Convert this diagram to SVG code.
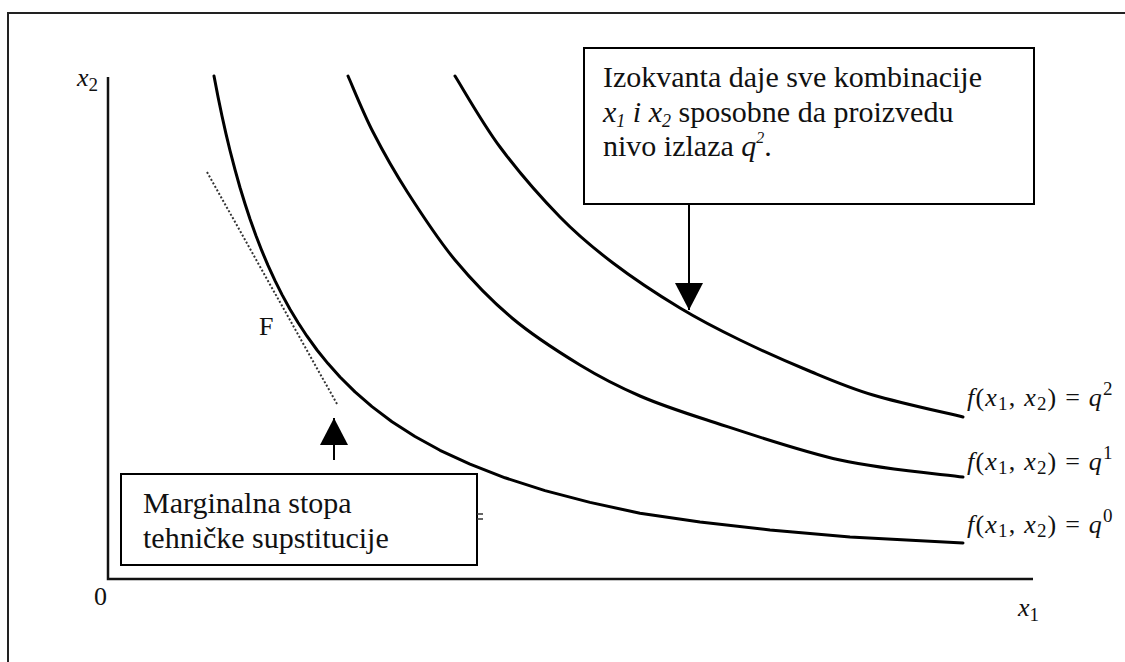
<svg xmlns="http://www.w3.org/2000/svg" width="1125" height="662" viewBox="0 0 1125 662">
<style>
.frame{stroke:#222;stroke-width:2;fill:none}
.axis{stroke:#111;stroke-width:2.5;fill:none}
.curve{stroke:#000;stroke-width:3;fill:none;stroke-linejoin:round;stroke-linecap:round}
.box{fill:#fff;stroke:#000;stroke-width:2}
.lbl{fill:#111}
.note{font-size:30px;fill:#111}
.it{font-style:italic}
.serif{font-family:'Liberation Serif','Tinos','Noto Serif','DejaVu Serif','Times New Roman',serif}
</style>
<defs>
<marker id="ah" markerWidth="28" markerHeight="28" refX="27" refY="14" orient="auto" markerUnits="userSpaceOnUse">
<path d="M0,0 L27,14 L0,28 Z" fill="#000"/>
</marker>
</defs>
<rect width="1125" height="662" fill="#fff"/>
<g id="frame">
<path class="frame" d="M8,662 L8,13 L1125,13"/>
</g>
<g class="serif">
<g id="axes">
<path class="axis" d="M108,77 L108,579 L1033,579"/>
<text class="lbl it" x="77" y="86" font-size="26">x<tspan font-style="normal" font-size="19" dy="5">2</tspan></text>
<text class="lbl" x="94" y="605" font-size="26">0</text>
<text class="lbl it" x="1018" y="616" font-size="26">x<tspan font-style="normal" font-size="19" dy="5">1</tspan></text>
</g>
<g id="curve-q0">
<polyline class="curve" points="214,76 218,96.8 222,116 226,133.9 230,150.5 235,169.7 240,187.5 245,203.8 250,219 256,235.7 262,251.2 268,265.4 275,280.6 282,294.6 290,309.2 298,322.5 307,336.2 317,350 328,363.6 340,377 355,391.9 372,406.6 392,421.7 415,436.5 440,450.3 470,464.2 505,477.8 545,490.6 590,502.4 640,513.2 700,522 770,530 850,537 963,543"/>
<text class="lbl" x="967" y="533" font-size="26" letter-spacing="1.2"><tspan class="it">f</tspan>(<tspan class="it">x</tspan><tspan font-size="19" dy="4">1</tspan><tspan dy="-4">, </tspan><tspan class="it">x</tspan><tspan font-size="19" dy="4">2</tspan><tspan dy="-4">) = </tspan><tspan class="it">q</tspan><tspan font-size="19" dy="-11">0</tspan></text>
</g>
<g id="curve-q1">
<path class="curve" d="M348,76 C352.2,85.3 363,112.5 373,132 C383,151.5 394.3,171.7 408,193 C421.7,214.3 437.7,239.2 455,260 C472.3,280.8 491.2,300.5 512,318 C532.8,335.5 558.7,352 580,365 C601.3,378 618.8,386.8 640,396 C661.2,405.2 673.7,409.3 707,420 C740.3,430.7 797.3,450.5 840,460 C882.7,469.5 942.5,474.2 963,477"/>
<text class="lbl" x="967" y="470" font-size="26" letter-spacing="1.2"><tspan class="it">f</tspan>(<tspan class="it">x</tspan><tspan font-size="19" dy="4">1</tspan><tspan dy="-4">, </tspan><tspan class="it">x</tspan><tspan font-size="19" dy="4">2</tspan><tspan dy="-4">) = </tspan><tspan class="it">q</tspan><tspan font-size="19" dy="-11">1</tspan></text>
</g>
<g id="curve-q2">
<path class="curve" d="M455,76 C462.5,87.8 482.5,123.5 500,147 C517.5,170.5 541.2,197.7 560,217 C578.8,236.3 593,247.8 613,263 C633,278.2 658.8,295.2 680,308 C701.2,320.8 718.8,329.7 740,340 C761.2,350.3 784.8,360.8 807,370 C829.2,379.2 847,387.2 873,395 C899,402.8 948,413.3 963,417"/>
<text class="lbl" x="967" y="406" font-size="26" letter-spacing="1.2"><tspan class="it">f</tspan>(<tspan class="it">x</tspan><tspan font-size="19" dy="4">1</tspan><tspan dy="-4">, </tspan><tspan class="it">x</tspan><tspan font-size="19" dy="4">2</tspan><tspan dy="-4">) = </tspan><tspan class="it">q</tspan><tspan font-size="19" dy="-11">2</tspan></text>
</g>
<g id="tangent-F">
<line x1="207" y1="172" x2="337" y2="404" stroke="#333" stroke-width="2" stroke-dasharray="2,2"/>
<text class="lbl" x="259" y="335" font-size="26">F</text>
</g>
<g id="note-isoquant">
<rect class="box" x="584" y="48" width="450" height="156"/>
<text class="note" x="603" y="87">Izokvanta daje sve kombinacije</text>
<text class="note" x="603" y="122"><tspan class="it">x</tspan><tspan class="it" font-size="18" dy="5">1</tspan><tspan dy="-5"> </tspan><tspan class="it">i</tspan> <tspan class="it">x</tspan><tspan class="it" font-size="18" dy="5">2</tspan><tspan dy="-5"> sposobne da proizvedu</tspan></text>
<text class="note" x="603" y="156">nivo izlaza <tspan class="it">q</tspan><tspan class="it" font-size="16" dy="-13">2</tspan><tspan dy="13">.</tspan></text>
</g>
<g id="note-mrts">
<rect class="box" x="121" y="474" width="356" height="91"/>
<text class="note" x="143" y="513">Marginalna stopa</text>
<text class="note" x="143" y="548">tehničke supstitucije</text>
<path d="M477,514 L483,514 M477,519 L483,519" stroke="#333" stroke-width="1.5"/>
</g>
</g>
<g id="connectors">
<line x1="689" y1="204" x2="689" y2="310" stroke="#000" stroke-width="2" marker-end="url(#ah)"/>
<line x1="334" y1="460" x2="334" y2="418" stroke="#000" stroke-width="2" marker-end="url(#ah)"/>
</g>
</svg>
